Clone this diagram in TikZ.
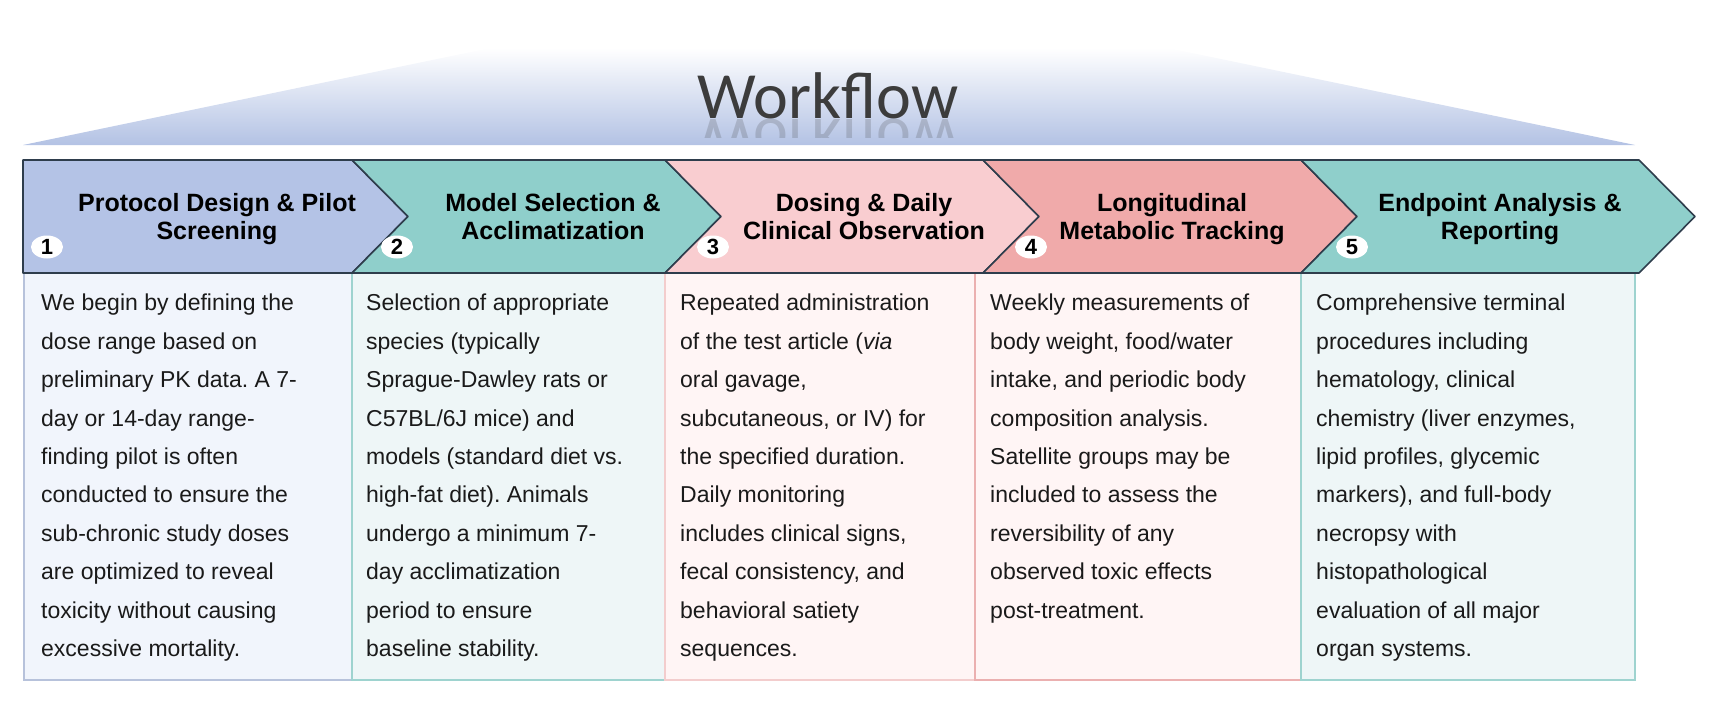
\documentclass[tikz,border=0pt]{standalone}
\usepackage{graphicx}
\usepackage{fontspec}
\setmainfont{Liberation Sans}
\newfontfamily\headfont{Carlito}
\usetikzlibrary{shapes.geometric}
\frenchspacing

\definecolor{bandblue}{HTML}{B3C2E4}
\definecolor{headink}{HTML}{3C3C3C}
\definecolor{chevline}{HTML}{2E3D4C}
\definecolor{chevblue}{HTML}{B4C3E6}
\definecolor{chevteal}{HTML}{8FCFCB}
\definecolor{chevpink}{HTML}{F9CDD0}
\definecolor{chevrose}{HTML}{F0AAAA}
\definecolor{cardblue}{HTML}{F1F5FC}
\definecolor{edgeblue}{HTML}{B7C2DB}
\definecolor{cardteal}{HTML}{EEF6F7}
\definecolor{edgeteal}{HTML}{9ED3CF}
\definecolor{cardpink}{HTML}{FFF5F5}
\definecolor{edgepink}{HTML}{F3CDCD}
\definecolor{edgerose}{HTML}{EBB0B0}
\definecolor{bodyink}{HTML}{1A1A1A}

\newcommand{\chevdepth}{56}

\begin{document}
\begin{tikzpicture}[x=1pt,y=-1pt,
  chevron/.style={draw=chevline, line width=1.6pt, line join=round},
  card/.style={line width=1.6pt},
  headtext/.style={anchor=north, inner sep=0pt, align=center, font=\bfseries\fontsize{25}{28}\selectfont},
  bodytext/.style={anchor=north west, inner sep=0pt, align=left, text=bodyink, font=\fontsize{23}{38.4}\selectfont},
  numbadge/.style={ellipse, fill=white, minimum width=32pt, minimum height=23pt, inner sep=0pt, font=\bfseries\fontsize{22}{22}\selectfont}]

        \useasboundingbox (0,0) rectangle (1712,706);

          % banner
        \shade[top color=white, bottom color=bandblue] (23,145) -- (490,48) -- (1168,48) -- (1635,145) -- cycle;
        \node (wf) at (828,118) [anchor=base, inner sep=0pt, text=headink, font=\headfont\fontsize{66}{66}\selectfont] {Workflow};
        \begin{scope}
          \clip (690,119) rectangle (970,137);
          \node (wfmirror) at (828,119) [anchor=north, inner sep=0pt, text=headink, opacity=0.2, font=\headfont\fontsize{66}{66}\selectfont] {\scalebox{1}[-1]{Workflow}};
        \end{scope}

          % cards below the steps
        \draw[card, fill=cardblue, draw=edgeblue] (24,273) rectangle (352,680);
        \draw[card, fill=cardteal, draw=edgeteal] (352,273) rectangle (665,680);
        \draw[card, fill=cardpink, draw=edgepink] (665,273) rectangle (975,680);
        \draw[card, fill=cardpink, draw=edgerose] (975,273) rectangle (1301,680);
        \draw[card, fill=cardteal, draw=edgeteal] (1301,273) rectangle (1635,680);

          % step chevrons
        \draw[chevron, fill=chevblue] (23,160) -- (352,160) -- (352+\chevdepth,216.5) -- (352,273) -- (23,273) -- cycle;
        \draw[chevron, fill=chevteal] (352,160) -- (665,160) -- (665+\chevdepth,216.5) -- (665,273) -- (352,273) -- (352+\chevdepth,216.5) -- cycle;
        \draw[chevron, fill=chevpink] (665,160) -- (983,160) -- (983+\chevdepth,216.5) -- (983,273) -- (665,273) -- (665+\chevdepth,216.5) -- cycle;
        \draw[chevron, fill=chevrose] (983,160) -- (1301,160) -- (1301+\chevdepth,216.5) -- (1301,273) -- (983,273) -- (983+\chevdepth,216.5) -- cycle;
        \draw[chevron, fill=chevteal] (1301,160) -- (1639,160) -- (1639+\chevdepth,216.5) -- (1639,273) -- (1301,273) -- (1301+\chevdepth,216.5) -- cycle;

        \node (t1) at (217,193.5) [headtext] {Protocol Design \& Pilot\\Screening};
        \node (t2) at (553,193.5) [headtext] {Model Selection \&\\Acclimatization};
        \node (t3) at (864,193.5) [headtext] {Dosing \& Daily\\Clinical Observation};
        \node (t4) at (1172,193.5) [headtext] {Longitudinal\\Metabolic Tracking};
        \node (t5) at (1500,193.5) [headtext] {Endpoint Analysis \&\\Reporting};

        \node (n1) at (47,247) [numbadge] {1};
        \node (n2) at (397,247) [numbadge] {2};
        \node (n3) at (713,247) [numbadge] {3};
        \node (n4) at (1031,247) [numbadge] {4};
        \node (n5) at (1352,247) [numbadge] {5};

        \node (d1) at (41,294) [bodytext] {We begin by defining the\\dose range based on\\preliminary PK data. A 7-\\day or 14-day range-\\finding pilot is often\\conducted to ensure the\\sub-chronic study doses\\are optimized to reveal\\toxicity without causing\\excessive mortality.};
        \node (d2) at (366,294) [bodytext] {Selection of appropriate\\species (typically\\Sprague-Dawley rats or\\C57BL/6J mice) and\\models (standard diet vs.\\high-fat diet). Animals\\undergo a minimum 7-\\day acclimatization\\period to ensure\\baseline stability.};
        \node (d3) at (680,294) [bodytext] {Repeated administration\\of the test article (\textit{via}\\oral gavage,\\subcutaneous, or IV) for\\the specified duration.\\Daily monitoring\\includes clinical signs,\\fecal consistency, and\\behavioral satiety\\sequences.};
        \node (d4) at (990,294) [bodytext] {Weekly measurements of\\body weight, food/water\\intake, and periodic body\\composition analysis.\\Satellite groups may be\\included to assess the\\reversibility of any\\observed toxic effects\\post-treatment.};
        \node (d5) at (1316,294) [bodytext] {Comprehensive terminal\\procedures including\\hematology, clinical\\chemistry (liver enzymes,\\lipid profiles, glycemic\\markers), and full-body\\necropsy with\\histopathological\\evaluation of all major\\organ systems.};

        \end{tikzpicture}
\end{document}
